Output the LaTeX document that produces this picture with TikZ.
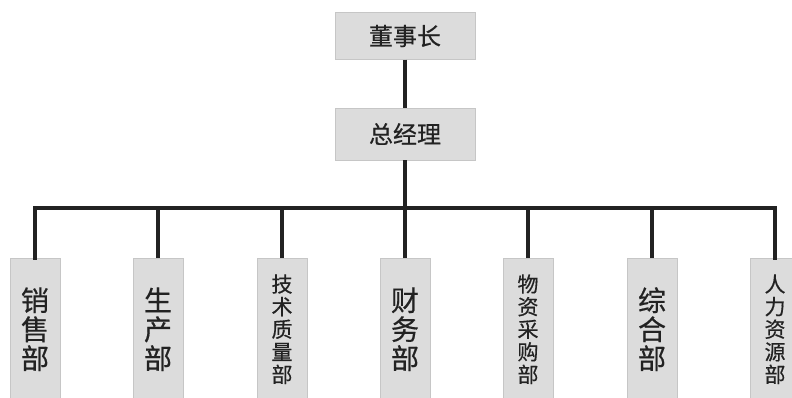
\documentclass[tikz,border=0pt]{standalone}
\usepackage{fontspec}
\setmainfont[FakeBold=0.5]{Noto Sans CJK SC}
\definecolor{boxgray}{HTML}{DCDCDC}
\definecolor{ink}{HTML}{222222}
\tikzset{
  x=1pt, y=-1pt,
  topbox/.style={draw=gray!45, fill=boxgray, minimum width=140pt, inner sep=0pt, text=ink, font=\fontsize{24}{24}\selectfont},
  deptbig/.style={draw=gray!45, fill=boxgray, minimum width=50pt, minimum height=142pt, anchor=north, inner sep=0pt, align=center, text=ink, font=\fontsize{28}{29}\selectfont},
  deptsmall/.style={deptbig, font=\fontsize{21}{22.6}\selectfont},
  conn/.style={draw=ink, line width=3.2pt}
}
\begin{document}
\begin{tikzpicture}
\useasboundingbox (0,0) rectangle (792,398);
\clip (0,0) rectangle (792,398);
\fill[white] (0,0) rectangle (792,398);
\node[topbox, minimum height=47pt] (dsz) at (405,36) {董事长};
\node[topbox, minimum height=52pt] (zjl) at (405,134) {总经理};
\node[deptbig] (b1) at (35,258) {销\\售\\部};
\node[deptbig] (b2) at (158,258) {生\\产\\部};
\node[deptsmall] (b3) at (282,258) {技\\术\\质\\量\\部};
\node[deptbig] (b4) at (405,258) {财\\务\\部};
\node[deptsmall] (b5) at (528,258) {物\\资\\采\\购\\部};
\node[deptbig] (b6) at (652,258) {综\\合\\部};
\node[deptsmall] (b7) at (775,258) {人\\力\\资\\源\\部};
\coordinate (bus) at (405,208);
\draw[conn] (dsz.south) -- (zjl.north);
\draw[conn] (zjl.south) -- (bus);
\draw[conn, line cap=rect] (b1.north) -- (b1.north |- bus) -- (b7.north |- bus) -- (b7.north);
\foreach \b in {b2,b3,b4,b5,b6} \draw[conn] (\b.north) -- (\b.north |- bus);
\end{tikzpicture}
\end{document}
